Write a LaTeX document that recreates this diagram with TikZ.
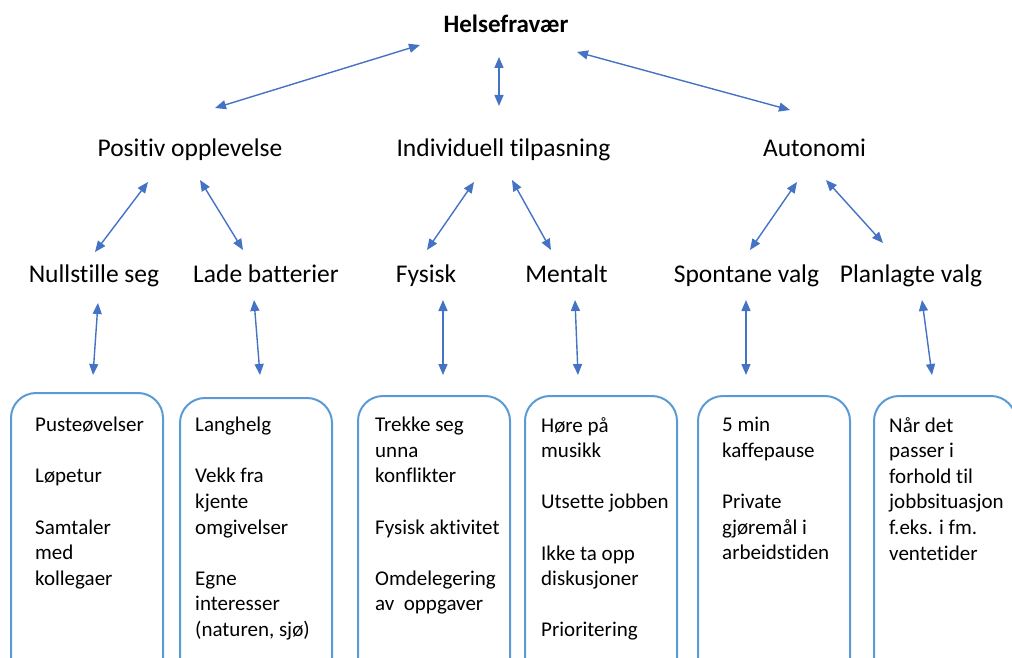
\documentclass[tikz,border=0pt]{standalone}
\usepackage{fontspec}
\setmainfont[Ligatures=NoCommon]{Carlito}
\usetikzlibrary{arrows.meta}
\definecolor{arrowblue}{HTML}{4472C4}
\definecolor{boxblue}{HTML}{5B9BD5}
\begin{document}
\begin{tikzpicture}[x=1pt,y=-1pt,
  biarrow/.style={{Triangle[length=11pt,width=9pt]}-{Triangle[length=11pt,width=9pt]}, draw=arrowblue, line width=1.4pt},
  itembox/.style={draw=boxblue, line width=2pt, rounded corners=25pt, anchor=north west, minimum width=152pt, minimum height=320pt, inner sep=0},
  lbl/.style={font=\fontsize{25.5}{30}\selectfont, inner sep=0, anchor=base},
  items/.style={font=\fontsize{21}{25.6}\selectfont, align=left, anchor=north west, inner sep=0}]
\useasboundingbox (0,0) rectangle (1012,658);
\clip (0,0) rectangle (1012,658);

% top
\node[lbl, font=\fontsize{25}{30}\selectfont\bfseries] (h) at (506,33) {Helsefravær};
% level 2
\node[lbl] (po) at (190,157) {Positiv opplevelse};
\node[lbl] (it) at (503.5,157) {Individuell tilpasning};
\node[lbl] (au) at (814.5,157) {Autonomi};
% level 3
\node[lbl] (ns) at (94,282) {Nullstille seg};
\node[lbl] (lb) at (266,282) {Lade batterier};
\node[lbl] (fy) at (426,282) {Fysisk};
\node[lbl] (me) at (566.5,282) {Mentalt};
\node[lbl] (sv) at (746.5,282) {Spontane valg};
\node[lbl] (pv) at (911,282) {Planlagte valg};

% boxes
\node[itembox] (b1) at (10,392) {};
\node[itembox] (b2) at (179,397) {};
\node[itembox] (b3) at (357,395) {};
\node[itembox] (b4) at (524,395) {};
\node[itembox] (b5) at (697,395) {};
\node[itembox, minimum width=142pt] (b6) at (873,395) {};

% box texts
\node[items] (t1) at (35,417) {Pusteøvelser\\[25.6pt]Løpetur\\[25.6pt]Samtaler\\med\\kollegaer};
\node[items] (t2) at (195,417) {Langhelg\\[25.6pt]Vekk fra\\kjente\\omgivelser\\[25.6pt]Egne\\interesser\\(naturen, sjø)};
\node[items] (t3) at (375,417) {Trekke seg\\unna\\konflikter\\[25.6pt]Fysisk aktivitet\\[25.6pt]Omdelegering\\av\ \ oppgaver};
\node[items] (t4) at (541,417) {Høre på\\musikk\\[25.6pt]Utsette jobben\\[25.6pt]Ikke ta opp\\diskusjoner\\[25.6pt]Prioritering};
\node[items] (t5) at (722,417) {5 min\\kaffepause\\[25.6pt]Private\\gjøremål i\\arbeidstiden};
\node[items] (t6) at (889,417) {Når det\\passer i\\forhold til\\jobbsituasjon\\f.eks. i fm.\\ventetider};

% arrow end coordinates
\coordinate (h1) at (420,45);   \coordinate (po1) at (215,108);
\coordinate (h2) at (499,57);   \coordinate (it1) at (499,106);
\coordinate (h3) at (577,52);   \coordinate (au1) at (790,110);
\coordinate (po2) at (148,182); \coordinate (ns1) at (95,252);
\coordinate (po3) at (200,180); \coordinate (lb1) at (243,250);
\coordinate (it2) at (474,182); \coordinate (fy1) at (427,250);
\coordinate (it3) at (512,180); \coordinate (me1) at (551,250);
\coordinate (au2) at (797,182); \coordinate (sv1) at (750,250);
\coordinate (au3) at (826,180); \coordinate (pv1) at (883,243);
\coordinate (ns2) at (98,303);  \coordinate (b1t) at (93,375);
\coordinate (lb2) at (254,300); \coordinate (b2t) at (260,375);
\coordinate (fy2) at (443,300); \coordinate (b3t) at (443,375);
\coordinate (me2) at (575,300); \coordinate (b4t) at (578,375);
\coordinate (sv2) at (746,300); \coordinate (b5t) at (746,375);
\coordinate (pv2) at (922,300); \coordinate (b6t) at (932,375);

\draw[biarrow] (h1) -- (po1);
\draw[biarrow] (h2) -- (it1);
\draw[biarrow] (h3) -- (au1);
\draw[biarrow] (po2) -- (ns1);
\draw[biarrow] (po3) -- (lb1);
\draw[biarrow] (it2) -- (fy1);
\draw[biarrow] (it3) -- (me1);
\draw[biarrow] (au2) -- (sv1);
\draw[biarrow] (au3) -- (pv1);
\draw[biarrow] (ns2) -- (b1t);
\draw[biarrow] (lb2) -- (b2t);
\draw[biarrow] (fy2) -- (b3t);
\draw[biarrow] (me2) -- (b4t);
\draw[biarrow] (sv2) -- (b5t);
\draw[biarrow] (pv2) -- (b6t);
\end{tikzpicture}
\end{document}
